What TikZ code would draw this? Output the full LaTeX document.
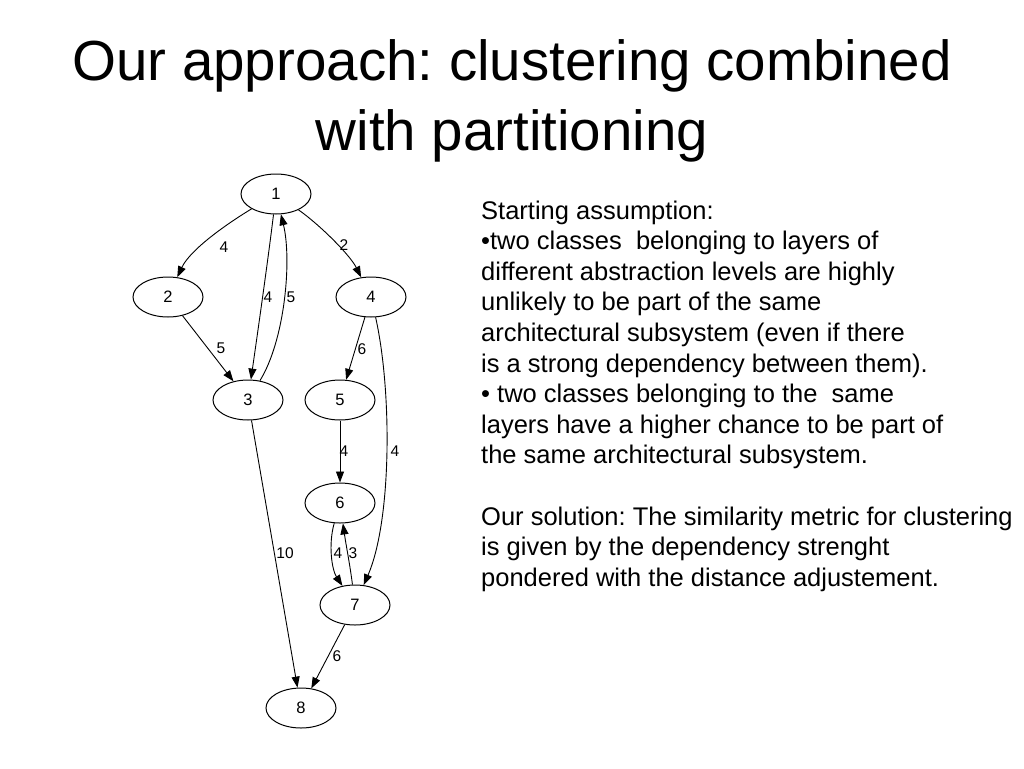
\documentclass[tikz,border=0pt]{standalone}
\usepackage{fontspec}
\setmainfont{Liberation Sans}[Ligatures=NoCommon]
\usetikzlibrary{shapes.geometric,arrows.meta}
\frenchspacing
\begin{document}
\begin{tikzpicture}[x=1pt,y=-1pt,
  gnode/.style={draw,ellipse,minimum width=70pt,minimum height=40pt,inner sep=0pt,line width=1pt,font=\fontsize{16.5}{19}\selectfont},
  edge/.style={draw,line width=0.9pt,-{Triangle[length=11pt,width=8pt]}},
  elabel/.style={font=\fontsize{15.5}{18}\selectfont,inner sep=0pt},
  body/.style={anchor=base west,inner sep=0pt,font=\fontsize{25.5}{30.6}\selectfont},
  title/.style={anchor=base,inner sep=0pt,font=\fontsize{56.5}{64}\selectfont}]
\useasboundingbox[fill=white] (0,0) rectangle (1024,768);

% title
\node[title] (ti1) at (512,81) {Our approach: clustering combined};
\node[title] (ti2) at (512,150) {with partitioning};

% graph nodes
\node[gnode] (n1) at (276,194) {1};
\node[gnode] (n2) at (168,297) {2};
\node[gnode] (n4) at (371,297) {4};
\node[gnode] (n3) at (248,400) {3};
\node[gnode] (n5) at (340,400) {5};
\node[gnode] (n6) at (340,503) {6};
\node[gnode] (n7) at (355,605) {7};
\node[gnode] (n8) at (301,708) {8};

% edges
\draw[edge] (n1) .. controls (225,225) and (190,250) .. (n2);
\draw[edge] (n1) .. controls (268,260) and (258,330) .. (n3);
\draw[edge] (n3) .. controls (285,340) and (292,260) .. (n1);
\draw[edge] (n1) .. controls (320,225) and (350,255) .. (n4);
\draw[edge] (n2) -- (n3);
\draw[edge] (n4) -- (n5);
\draw[edge] (n4) .. controls (392,390) and (392,520) .. (n7);
\draw[edge] (n5) -- (n6);
\draw[edge] (n6) .. controls (328,545) and (332,570) .. (n7);
\draw[edge] (n7) .. controls (350,565) and (346,545) .. (n6);
\draw[edge] (n3) -- (n8);
\draw[edge] (n7) -- (n8);

% edge labels
\node[elabel] (l12) at (224,247) {4};
\node[elabel] (l13) at (268,297) {4};
\node[elabel] (l31) at (291,297) {5};
\node[elabel] (l14) at (344,245) {2};
\node[elabel] (l23) at (221,348) {5};
\node[elabel] (l45) at (362,349) {6};
\node[elabel] (l47) at (395,451) {4};
\node[elabel] (l56) at (344,451) {4};
\node[elabel] (l67) at (338,553) {4};
\node[elabel] (l76) at (353,553) {3};
\node[elabel] (l38) at (285,553) {10};
\node[elabel] (l78) at (337,656) {6};

% body text
\node[body] (t1) at (481,219.0) {Starting assumption:};
\node[body] (t2) at (481,249.6) {•two classes~ belonging to layers of};
\node[body] (t3) at (481,280.2) {different abstraction levels are highly};
\node[body] (t4) at (481,310.8) {unlikely to be part of the same};
\node[body] (t5) at (481,341.4) {architectural subsystem (even if there};
\node[body] (t6) at (481,372.0) {is a strong dependency between them).};
\node[body] (t7) at (481,402.6) {• two classes belonging to the~ same};
\node[body] (t8) at (481,433.2) {layers have a higher chance to be part of};
\node[body] (t9) at (481,463.8) {the same architectural subsystem.};
\node[body] (t10) at (481,525.0) {Our solution: The similarity metric for clustering};
\node[body] (t11) at (481,555.6) {is given by the dependency strenght};
\node[body] (t12) at (481,586.2) {pondered with the distance adjustement.};
\end{tikzpicture}
\end{document}
